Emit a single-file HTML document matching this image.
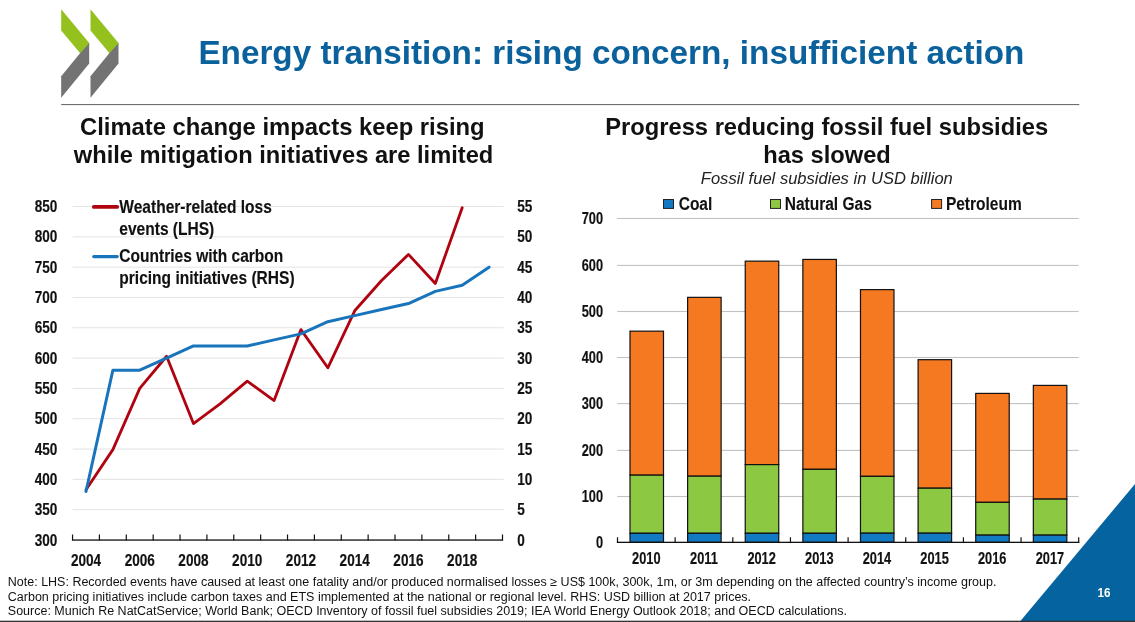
<!DOCTYPE html>
<html lang="en"><head><meta charset="utf-8"><title>Energy transition: rising concern, insufficient action</title>
<style>
html,body{margin:0;padding:0;background:#fff;}
body{width:1135px;height:622px;overflow:hidden;font-family:"Liberation Sans",sans-serif;}
svg{display:block;position:absolute;left:0;top:0;}
text{font-family:"Liberation Sans",sans-serif;}
.nb{font-weight:bold;fill:#111;}
</style></head><body>
<svg width="1135" height="622" viewBox="0 0 1135 622">
<rect width="1135" height="622" fill="#ffffff"/>

<polygon points="61.2,9.2 89.2,42.9 89.2,43.9 80.2,53.2 61.2,30.4" fill="#95c11f"/>
<polygon points="89.2,43.2 89.2,63.6 61.2,97.7 61.2,76.2 80.2,53.0" fill="#737373"/>
<polygon points="90.5,9.2 118.5,42.9 118.5,43.9 109.5,53.2 90.5,30.4" fill="#95c11f"/>
<polygon points="118.5,43.2 118.5,63.6 90.5,97.7 90.5,76.2 109.5,53.0" fill="#737373"/>
<rect x="61.2" y="104.0" width="1018.1" height="1.1" fill="#6e6e6e"/>
<text x="198.4" y="63.8" font-size="33.2" font-weight="bold" fill="#0a619c" textLength="826" lengthAdjust="spacingAndGlyphs">Energy transition: rising concern, insufficient action</text>
<text x="80" y="134.5" font-size="23.7" font-weight="bold" fill="#111" textLength="404.6" lengthAdjust="spacingAndGlyphs">Climate change impacts keep rising</text>
<text x="73.8" y="162.8" font-size="23.7" font-weight="bold" fill="#111" textLength="419.5" lengthAdjust="spacingAndGlyphs">while mitigation initiatives are limited</text>
<text x="605.2" y="134.5" font-size="23.7" font-weight="bold" fill="#111" textLength="443" lengthAdjust="spacingAndGlyphs">Progress reducing fossil fuel subsidies</text>
<text x="763.2" y="162.8" font-size="23.7" font-weight="bold" fill="#111" textLength="127.6" lengthAdjust="spacingAndGlyphs">has slowed</text>
<text x="700.8" y="183.8" font-size="16.5" font-style="italic" fill="#222" textLength="252" lengthAdjust="spacingAndGlyphs">Fossil fuel subsidies in USD billion</text>
<rect x="72.55" y="509.18" width="431.1" height="1" fill="#e3e3e3"/>
<rect x="72.55" y="478.86" width="431.1" height="1" fill="#e3e3e3"/>
<rect x="72.55" y="448.55" width="431.1" height="1" fill="#e3e3e3"/>
<rect x="72.55" y="418.23" width="431.1" height="1" fill="#e3e3e3"/>
<rect x="72.55" y="387.91" width="431.1" height="1" fill="#e3e3e3"/>
<rect x="72.55" y="357.59" width="431.1" height="1" fill="#e3e3e3"/>
<rect x="72.55" y="327.27" width="431.1" height="1" fill="#e3e3e3"/>
<rect x="72.55" y="296.95" width="431.1" height="1" fill="#e3e3e3"/>
<rect x="72.55" y="266.64" width="431.1" height="1" fill="#e3e3e3"/>
<rect x="72.55" y="236.32" width="431.1" height="1" fill="#e3e3e3"/>
<rect x="72.55" y="206.00" width="431.1" height="1" fill="#e3e3e3"/>
<rect x="71.95" y="539.4" width="431.1" height="1.3" fill="#111"/>
<rect x="71.95" y="534.5" width="1.2" height="6" fill="#111"/>
<rect x="98.82" y="534.5" width="1.2" height="6" fill="#111"/>
<rect x="125.69" y="534.5" width="1.2" height="6" fill="#111"/>
<rect x="152.57" y="534.5" width="1.2" height="6" fill="#111"/>
<rect x="179.44" y="534.5" width="1.2" height="6" fill="#111"/>
<rect x="206.31" y="534.5" width="1.2" height="6" fill="#111"/>
<rect x="233.18" y="534.5" width="1.2" height="6" fill="#111"/>
<rect x="260.05" y="534.5" width="1.2" height="6" fill="#111"/>
<rect x="286.92" y="534.5" width="1.2" height="6" fill="#111"/>
<rect x="313.80" y="534.5" width="1.2" height="6" fill="#111"/>
<rect x="340.67" y="534.5" width="1.2" height="6" fill="#111"/>
<rect x="367.54" y="534.5" width="1.2" height="6" fill="#111"/>
<rect x="394.41" y="534.5" width="1.2" height="6" fill="#111"/>
<rect x="421.28" y="534.5" width="1.2" height="6" fill="#111"/>
<rect x="448.16" y="534.5" width="1.2" height="6" fill="#111"/>
<rect x="475.03" y="534.5" width="1.2" height="6" fill="#111"/>
<rect x="501.90" y="534.5" width="1.2" height="6" fill="#111"/>
<text transform="translate(57.40,545.50) scale(0.785,1)" font-size="17.3" font-weight="bold" fill="#111" stroke="#111" stroke-width="0.18" text-anchor="end">300</text>
<text transform="translate(57.40,515.18) scale(0.785,1)" font-size="17.3" font-weight="bold" fill="#111" stroke="#111" stroke-width="0.18" text-anchor="end">350</text>
<text transform="translate(57.40,484.86) scale(0.785,1)" font-size="17.3" font-weight="bold" fill="#111" stroke="#111" stroke-width="0.18" text-anchor="end">400</text>
<text transform="translate(57.40,454.55) scale(0.785,1)" font-size="17.3" font-weight="bold" fill="#111" stroke="#111" stroke-width="0.18" text-anchor="end">450</text>
<text transform="translate(57.40,424.23) scale(0.785,1)" font-size="17.3" font-weight="bold" fill="#111" stroke="#111" stroke-width="0.18" text-anchor="end">500</text>
<text transform="translate(57.40,393.91) scale(0.785,1)" font-size="17.3" font-weight="bold" fill="#111" stroke="#111" stroke-width="0.18" text-anchor="end">550</text>
<text transform="translate(57.40,363.59) scale(0.785,1)" font-size="17.3" font-weight="bold" fill="#111" stroke="#111" stroke-width="0.18" text-anchor="end">600</text>
<text transform="translate(57.40,333.27) scale(0.785,1)" font-size="17.3" font-weight="bold" fill="#111" stroke="#111" stroke-width="0.18" text-anchor="end">650</text>
<text transform="translate(57.40,302.95) scale(0.785,1)" font-size="17.3" font-weight="bold" fill="#111" stroke="#111" stroke-width="0.18" text-anchor="end">700</text>
<text transform="translate(57.40,272.64) scale(0.785,1)" font-size="17.3" font-weight="bold" fill="#111" stroke="#111" stroke-width="0.18" text-anchor="end">750</text>
<text transform="translate(57.40,242.32) scale(0.785,1)" font-size="17.3" font-weight="bold" fill="#111" stroke="#111" stroke-width="0.18" text-anchor="end">800</text>
<text transform="translate(57.40,212.00) scale(0.785,1)" font-size="17.3" font-weight="bold" fill="#111" stroke="#111" stroke-width="0.18" text-anchor="end">850</text>
<text transform="translate(517.20,545.60) scale(0.785,1)" font-size="17.3" font-weight="bold" fill="#111" stroke="#111" stroke-width="0.18" text-anchor="start">0</text>
<text transform="translate(517.20,515.28) scale(0.785,1)" font-size="17.3" font-weight="bold" fill="#111" stroke="#111" stroke-width="0.18" text-anchor="start">5</text>
<text transform="translate(517.20,484.96) scale(0.785,1)" font-size="17.3" font-weight="bold" fill="#111" stroke="#111" stroke-width="0.18" text-anchor="start">10</text>
<text transform="translate(517.20,454.65) scale(0.785,1)" font-size="17.3" font-weight="bold" fill="#111" stroke="#111" stroke-width="0.18" text-anchor="start">15</text>
<text transform="translate(517.20,424.33) scale(0.785,1)" font-size="17.3" font-weight="bold" fill="#111" stroke="#111" stroke-width="0.18" text-anchor="start">20</text>
<text transform="translate(517.20,394.01) scale(0.785,1)" font-size="17.3" font-weight="bold" fill="#111" stroke="#111" stroke-width="0.18" text-anchor="start">25</text>
<text transform="translate(517.20,363.69) scale(0.785,1)" font-size="17.3" font-weight="bold" fill="#111" stroke="#111" stroke-width="0.18" text-anchor="start">30</text>
<text transform="translate(517.20,333.37) scale(0.785,1)" font-size="17.3" font-weight="bold" fill="#111" stroke="#111" stroke-width="0.18" text-anchor="start">35</text>
<text transform="translate(517.20,303.05) scale(0.785,1)" font-size="17.3" font-weight="bold" fill="#111" stroke="#111" stroke-width="0.18" text-anchor="start">40</text>
<text transform="translate(517.20,272.74) scale(0.785,1)" font-size="17.3" font-weight="bold" fill="#111" stroke="#111" stroke-width="0.18" text-anchor="start">45</text>
<text transform="translate(517.20,242.42) scale(0.785,1)" font-size="17.3" font-weight="bold" fill="#111" stroke="#111" stroke-width="0.18" text-anchor="start">50</text>
<text transform="translate(517.20,212.10) scale(0.785,1)" font-size="17.3" font-weight="bold" fill="#111" stroke="#111" stroke-width="0.18" text-anchor="start">55</text>
<text transform="translate(85.99,566.00) scale(0.785,1)" font-size="17.3" font-weight="bold" fill="#111" stroke="#111" stroke-width="0.18" text-anchor="middle">2004</text>
<text transform="translate(139.73,566.00) scale(0.785,1)" font-size="17.3" font-weight="bold" fill="#111" stroke="#111" stroke-width="0.18" text-anchor="middle">2006</text>
<text transform="translate(193.47,566.00) scale(0.785,1)" font-size="17.3" font-weight="bold" fill="#111" stroke="#111" stroke-width="0.18" text-anchor="middle">2008</text>
<text transform="translate(247.22,566.00) scale(0.785,1)" font-size="17.3" font-weight="bold" fill="#111" stroke="#111" stroke-width="0.18" text-anchor="middle">2010</text>
<text transform="translate(300.96,566.00) scale(0.785,1)" font-size="17.3" font-weight="bold" fill="#111" stroke="#111" stroke-width="0.18" text-anchor="middle">2012</text>
<text transform="translate(354.70,566.00) scale(0.785,1)" font-size="17.3" font-weight="bold" fill="#111" stroke="#111" stroke-width="0.18" text-anchor="middle">2014</text>
<text transform="translate(408.45,566.00) scale(0.785,1)" font-size="17.3" font-weight="bold" fill="#111" stroke="#111" stroke-width="0.18" text-anchor="middle">2016</text>
<text transform="translate(462.19,566.00) scale(0.785,1)" font-size="17.3" font-weight="bold" fill="#111" stroke="#111" stroke-width="0.18" text-anchor="middle">2018</text>
<polyline points="85.99,489.67 112.86,449.65 139.73,388.41 166.60,356.27 193.47,423.58 220.35,403.57 247.22,381.13 274.09,400.54 300.96,329.59 327.83,367.79 354.70,310.79 381.58,280.48 408.45,254.40 435.32,283.51 462.19,207.71" fill="none" stroke="#b00310" stroke-width="2.8" stroke-linejoin="round" stroke-linecap="round"/>
<polyline points="85.99,491.49 112.86,370.22 139.73,370.22 166.60,358.09 193.47,345.96 220.35,345.96 247.22,345.96 274.09,339.90 300.96,333.84 327.83,321.71 354.70,315.65 381.58,309.58 408.45,303.52 435.32,291.39 462.19,285.33 489.06,267.14" fill="none" stroke="#1874bb" stroke-width="3.0" stroke-linejoin="round" stroke-linecap="round"/>
<line x1="93.8" y1="206.9" x2="117.2" y2="206.9" stroke="#b00310" stroke-width="3.7" stroke-linecap="round"/>
<line x1="93.8" y1="256.6" x2="117.2" y2="256.6" stroke="#1874bb" stroke-width="3.3" stroke-linecap="round"/>
<text transform="translate(119.30,212.60) scale(0.814,1)" font-size="19.1" font-weight="bold" fill="#111" stroke="#111" stroke-width="0.15" text-anchor="start">Weather-related loss</text>
<text transform="translate(119.30,234.80) scale(0.814,1)" font-size="19.1" font-weight="bold" fill="#111" stroke="#111" stroke-width="0.15" text-anchor="start">events (LHS)</text>
<text transform="translate(119.30,262.40) scale(0.814,1)" font-size="19.1" font-weight="bold" fill="#111" stroke="#111" stroke-width="0.15" text-anchor="start">Countries with carbon</text>
<text transform="translate(119.30,284.20) scale(0.814,1)" font-size="19.1" font-weight="bold" fill="#111" stroke="#111" stroke-width="0.15" text-anchor="start">pricing initiatives (RHS)</text>
<rect x="617.2" y="495.95" width="461.5" height="1.1" fill="#c2c2c2"/>
<rect x="617.2" y="449.85" width="461.5" height="1.1" fill="#c2c2c2"/>
<rect x="617.2" y="403.05" width="461.5" height="1.1" fill="#c2c2c2"/>
<rect x="617.2" y="356.95" width="461.5" height="1.1" fill="#c2c2c2"/>
<rect x="617.2" y="310.95" width="461.5" height="1.1" fill="#c2c2c2"/>
<rect x="617.2" y="264.85" width="461.5" height="1.1" fill="#c2c2c2"/>
<rect x="617.2" y="217.95" width="461.5" height="1.1" fill="#c2c2c2"/>
<rect x="630.00" y="331.16" width="33.5" height="144.00" fill="#f47920" stroke="#111" stroke-width="1.2"/>
<rect x="630.00" y="475.16" width="33.5" height="58.13" fill="#8cc841" stroke="#111" stroke-width="1.2"/>
<rect x="630.00" y="533.28" width="33.5" height="9.02" fill="#117ac2" stroke="#111" stroke-width="1.2"/>
<rect x="687.62" y="297.35" width="33.5" height="178.82" fill="#f47920" stroke="#111" stroke-width="1.2"/>
<rect x="687.62" y="476.17" width="33.5" height="57.11" fill="#8cc841" stroke="#111" stroke-width="1.2"/>
<rect x="687.62" y="533.28" width="33.5" height="9.02" fill="#117ac2" stroke="#111" stroke-width="1.2"/>
<rect x="745.24" y="261.14" width="33.5" height="203.47" fill="#f47920" stroke="#111" stroke-width="1.2"/>
<rect x="745.24" y="464.61" width="33.5" height="68.67" fill="#8cc841" stroke="#111" stroke-width="1.2"/>
<rect x="745.24" y="533.28" width="33.5" height="9.02" fill="#117ac2" stroke="#111" stroke-width="1.2"/>
<rect x="802.86" y="259.43" width="33.5" height="209.90" fill="#f47920" stroke="#111" stroke-width="1.2"/>
<rect x="802.86" y="469.33" width="33.5" height="63.95" fill="#8cc841" stroke="#111" stroke-width="1.2"/>
<rect x="802.86" y="533.28" width="33.5" height="9.02" fill="#117ac2" stroke="#111" stroke-width="1.2"/>
<rect x="860.48" y="289.63" width="33.5" height="186.73" fill="#f47920" stroke="#111" stroke-width="1.2"/>
<rect x="860.48" y="476.36" width="33.5" height="56.83" fill="#8cc841" stroke="#111" stroke-width="1.2"/>
<rect x="860.48" y="533.19" width="33.5" height="9.11" fill="#117ac2" stroke="#111" stroke-width="1.2"/>
<rect x="918.10" y="359.69" width="33.5" height="128.51" fill="#f47920" stroke="#111" stroke-width="1.2"/>
<rect x="918.10" y="488.20" width="33.5" height="44.99" fill="#8cc841" stroke="#111" stroke-width="1.2"/>
<rect x="918.10" y="533.19" width="33.5" height="9.11" fill="#117ac2" stroke="#111" stroke-width="1.2"/>
<rect x="975.72" y="393.40" width="33.5" height="108.95" fill="#f47920" stroke="#111" stroke-width="1.2"/>
<rect x="975.72" y="502.35" width="33.5" height="32.79" fill="#8cc841" stroke="#111" stroke-width="1.2"/>
<rect x="975.72" y="535.13" width="33.5" height="7.17" fill="#117ac2" stroke="#111" stroke-width="1.2"/>
<rect x="1033.34" y="385.40" width="33.5" height="113.71" fill="#f47920" stroke="#111" stroke-width="1.2"/>
<rect x="1033.34" y="499.11" width="33.5" height="36.02" fill="#8cc841" stroke="#111" stroke-width="1.2"/>
<rect x="1033.34" y="535.13" width="33.5" height="7.17" fill="#117ac2" stroke="#111" stroke-width="1.2"/>
<rect x="616.9" y="541.6999999999999" width="462.4" height="1.3" fill="#111"/>
<rect x="616.90" y="537.3" width="1.2" height="5.5" fill="#111"/>
<rect x="674.55" y="537.3" width="1.2" height="5.5" fill="#111"/>
<rect x="732.20" y="537.3" width="1.2" height="5.5" fill="#111"/>
<rect x="789.85" y="537.3" width="1.2" height="5.5" fill="#111"/>
<rect x="847.50" y="537.3" width="1.2" height="5.5" fill="#111"/>
<rect x="905.15" y="537.3" width="1.2" height="5.5" fill="#111"/>
<rect x="962.80" y="537.3" width="1.2" height="5.5" fill="#111"/>
<rect x="1020.45" y="537.3" width="1.2" height="5.5" fill="#111"/>
<rect x="1078.10" y="537.3" width="1.2" height="5.5" fill="#111"/>
<text transform="translate(603.00,547.90) scale(0.785,1)" font-size="16.3" font-weight="bold" fill="#111" stroke="#111" stroke-width="0.18" text-anchor="end">0</text>
<text transform="translate(603.00,502.10) scale(0.785,1)" font-size="16.3" font-weight="bold" fill="#111" stroke="#111" stroke-width="0.18" text-anchor="end">100</text>
<text transform="translate(603.00,456.00) scale(0.785,1)" font-size="16.3" font-weight="bold" fill="#111" stroke="#111" stroke-width="0.18" text-anchor="end">200</text>
<text transform="translate(603.00,409.20) scale(0.785,1)" font-size="16.3" font-weight="bold" fill="#111" stroke="#111" stroke-width="0.18" text-anchor="end">300</text>
<text transform="translate(603.00,363.10) scale(0.785,1)" font-size="16.3" font-weight="bold" fill="#111" stroke="#111" stroke-width="0.18" text-anchor="end">400</text>
<text transform="translate(603.00,317.10) scale(0.785,1)" font-size="16.3" font-weight="bold" fill="#111" stroke="#111" stroke-width="0.18" text-anchor="end">500</text>
<text transform="translate(603.00,271.00) scale(0.785,1)" font-size="16.3" font-weight="bold" fill="#111" stroke="#111" stroke-width="0.18" text-anchor="end">600</text>
<text transform="translate(603.00,224.10) scale(0.785,1)" font-size="16.3" font-weight="bold" fill="#111" stroke="#111" stroke-width="0.18" text-anchor="end">700</text>
<text transform="translate(646.33,563.80) scale(0.785,1)" font-size="16.3" font-weight="bold" fill="#111" stroke="#111" stroke-width="0.18" text-anchor="middle">2010</text>
<text transform="translate(703.98,563.80) scale(0.785,1)" font-size="16.3" font-weight="bold" fill="#111" stroke="#111" stroke-width="0.18" text-anchor="middle">2011</text>
<text transform="translate(761.62,563.80) scale(0.785,1)" font-size="16.3" font-weight="bold" fill="#111" stroke="#111" stroke-width="0.18" text-anchor="middle">2012</text>
<text transform="translate(819.28,563.80) scale(0.785,1)" font-size="16.3" font-weight="bold" fill="#111" stroke="#111" stroke-width="0.18" text-anchor="middle">2013</text>
<text transform="translate(876.92,563.80) scale(0.785,1)" font-size="16.3" font-weight="bold" fill="#111" stroke="#111" stroke-width="0.18" text-anchor="middle">2014</text>
<text transform="translate(934.58,563.80) scale(0.785,1)" font-size="16.3" font-weight="bold" fill="#111" stroke="#111" stroke-width="0.18" text-anchor="middle">2015</text>
<text transform="translate(992.23,563.80) scale(0.785,1)" font-size="16.3" font-weight="bold" fill="#111" stroke="#111" stroke-width="0.18" text-anchor="middle">2016</text>
<text transform="translate(1049.88,563.80) scale(0.785,1)" font-size="16.3" font-weight="bold" fill="#111" stroke="#111" stroke-width="0.18" text-anchor="middle">2017</text>
<rect x="663.5" y="199.5" width="10.0" height="8.9" fill="#117ac2" stroke="#222" stroke-width="1"/>
<text transform="translate(678.70,210.00) scale(0.83,1)" font-size="18.7" font-weight="bold" fill="#111" stroke="#111" stroke-width="0.1" text-anchor="start">Coal</text>
<rect x="770.5" y="199.5" width="10.0" height="8.9" fill="#8cc841" stroke="#222" stroke-width="1"/>
<text transform="translate(784.70,210.00) scale(0.83,1)" font-size="18.7" font-weight="bold" fill="#111" stroke="#111" stroke-width="0.1" text-anchor="start">Natural Gas</text>
<rect x="931.6" y="199.5" width="10.0" height="8.9" fill="#f47920" stroke="#222" stroke-width="1"/>
<text transform="translate(945.90,210.00) scale(0.83,1)" font-size="18.7" font-weight="bold" fill="#111" stroke="#111" stroke-width="0.1" text-anchor="start">Petroleum</text>
<text x="7.8" y="586.1" font-size="12.5" fill="#111" textLength="988.6" lengthAdjust="spacingAndGlyphs">Note: LHS: Recorded events have caused at least one fatality and/or produced normalised losses ≥ US$ 100k, 300k, 1m, or 3m depending on the affected country’s income group.</text>
<text x="7.8" y="600.6" font-size="12.5" fill="#111" textLength="743.3" lengthAdjust="spacingAndGlyphs">Carbon pricing initiatives include carbon taxes and ETS implemented at the national or regional level. RHS: USD billion at 2017 prices.</text>
<text x="7.8" y="614.8" font-size="12.5" fill="#111" textLength="839.2" lengthAdjust="spacingAndGlyphs">Source: Munich Re NatCatService; World Bank; OECD Inventory of fossil fuel subsidies 2019; IEA World Energy Outlook 2018; and OECD calculations.</text>
<polygon points="1019.6,622 1135,484.0 1135,622" fill="#05649f"/>
<text transform="translate(1097.5,596.9) scale(0.95,1)" font-size="12.3" font-weight="bold" fill="#fff">16</text>
<rect x="0" y="620.7" width="1135" height="1.3" fill="#333"/>
</svg></body></html>
